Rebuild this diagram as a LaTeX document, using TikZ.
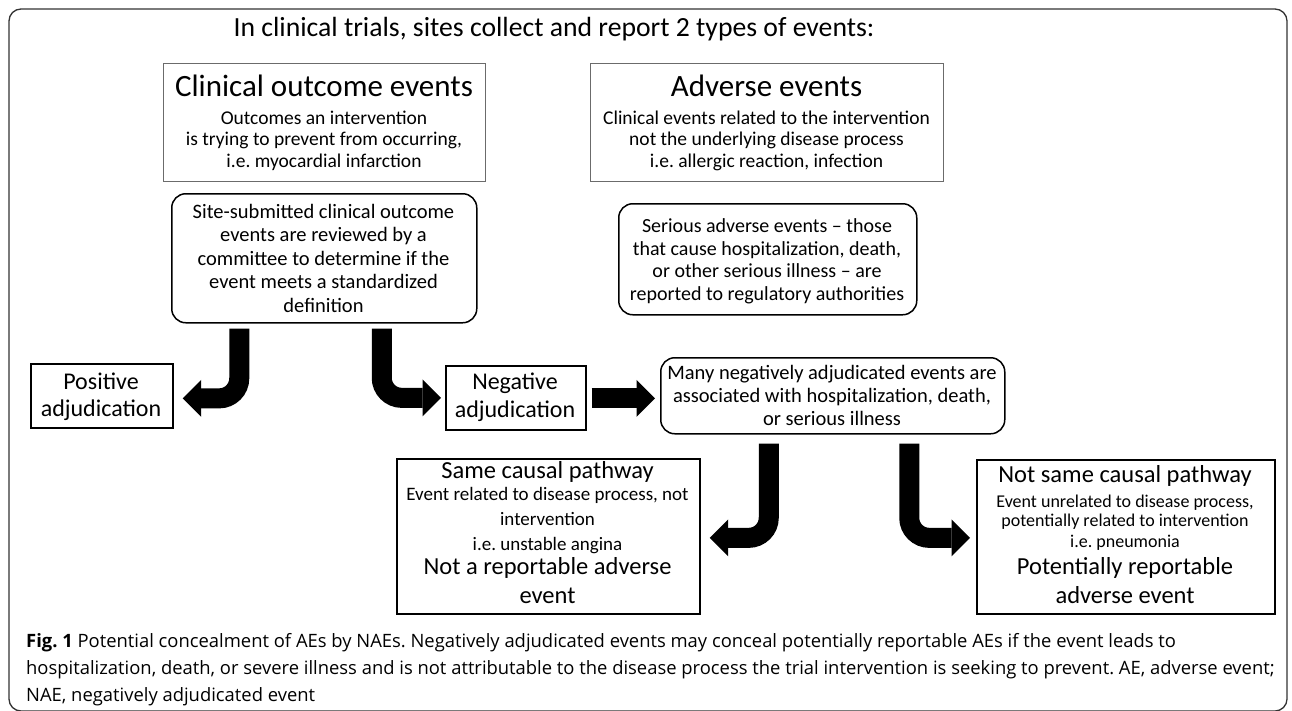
\documentclass[tikz,border=0pt]{standalone}
\usepackage{fontspec}
\setmainfont{Carlito}
\newfontfamily\capfont{Open Sans}
\usetikzlibrary{arrows.meta,calc}
\begin{document}
\frenchspacing
\begin{tikzpicture}[x=1pt,y=-1pt,
  greybox/.style={draw=black!58, line width=1.2pt, inner sep=0pt, anchor=north west},
  rbox/.style={draw=black, line width=1.5pt, rounded corners=14pt, inner sep=0pt, anchor=north west},
  sbox/.style={draw=black, line width=1.7pt, inner sep=0pt, anchor=north west},
  bigarrow/.style={line width=20pt, rounded corners=20pt, -{Triangle[length=18.5pt,width=37pt,line width=0pt]}},
  lbl/.style={anchor=base, inner sep=0pt},
  fTitle/.style={lbl, font=\fontsize{27.7}{27.7}\selectfont},
  fHead/.style={lbl, font=\fontsize{31}{31}\selectfont},
  fSub/.style={lbl, font=\fontsize{19.5}{19.5}\selectfont},
  fRnd/.style={lbl, font=\fontsize{20.5}{20.5}\selectfont},
  fSer/.style={lbl, font=\fontsize{20}{20}\selectfont},
  fAdj/.style={lbl, font=\fontsize{24}{24}\selectfont},
  fBig/.style={lbl, font=\fontsize{24.5}{24.5}\selectfont},
  fSame/.style={lbl, font=\fontsize{19}{19}\selectfont},
  fSmall/.style={lbl, font=\fontsize{18}{18}\selectfont},
  captext/.style={anchor=base west, inner sep=0pt, font=\capfont\fontsize{18.4}{20}\selectfont}
]
\useasboundingbox (0,0) rectangle (1292,710);
% outer frame
\draw[line width=1.3pt, black!80, rounded corners=12pt] (9,9) rectangle (1287,711);

\node[fTitle] (title) at (554,36) {In clinical trials, sites collect and report 2 types of events:};

% boxes
\node[greybox, minimum width=322pt, minimum height=118pt] (b1) at (163,63) {};
\node[greybox, minimum width=353pt, minimum height=118pt] (b2) at (590,63) {};
\node[rbox, minimum width=305pt, minimum height=129pt] (b3) at (171,193) {};
\node[rbox, minimum width=298pt, minimum height=111pt] (b4) at (618,203) {};
\node[sbox, minimum width=142pt, minimum height=64pt] (pos) at (30,363) {};
\node[sbox, minimum width=140pt, minimum height=64pt] (neg) at (445,365) {};
\node[rbox, minimum width=344pt, minimum height=76pt] (many) at (660,357) {};
\node[sbox, minimum width=303pt, minimum height=155pt] (same) at (396,458) {};
\node[sbox, minimum width=298pt, minimum height=154pt] (notsame) at (976,459) {};

% box 1 text
\node[fHead] (b1h) at (324,96) {Clinical outcome events};
\node[fSub] (b1a) at (324,124) {Outcomes an intervention};
\node[fSub] (b1b) at (324,145.5) {is trying to prevent from occurring,};
\node[fSub] (b1c) at (324,167) {i.e. myocardial infarction};
% box 2 text
\node[fHead] (b2h) at (766.5,96) {Adverse events};
\node[fSub] (b2a) at (766.5,124) {Clinical events related to the intervention};
\node[fSub] (b2b) at (766.5,145.5) {not the underlying disease process};
\node[fSub] (b2c) at (766.5,167) {i.e. allergic reaction, infection};
% box 3 text
\node[fRnd] (b3a) at (323.5,218) {Site-submitted clinical outcome};
\node[fRnd] (b3b) at (323.5,241.5) {events are reviewed by a};
\node[fRnd] (b3c) at (323.5,265) {committee to determine if the};
\node[fRnd] (b3d) at (323.5,288.5) {event meets a standardized};
\node[fRnd] (b3e) at (323.5,312) {definition};
% box 4 text
\node[fSer] (b4a) at (767,232) {Serious adverse events – those};
\node[fSer] (b4b) at (767,255) {that cause hospitalization, death,};
\node[fSer] (b4c) at (767,277.5) {or other serious illness – are};
\node[fSer] (b4d) at (767,300) {reported to regulatory authorities};
% adjudication boxes
\node[fAdj] (posa) at (101,389) {Positive};
\node[fAdj] (posb) at (101,416) {adjudication};
\node[fAdj] (nega) at (515,389) {Negative};
\node[fAdj] (negb) at (515,417) {adjudication};
% many
\node[fRnd] (manya) at (832,379) {Many negatively adjudicated events are};
\node[fRnd] (manyb) at (832,402) {associated with hospitalization, death,};
\node[fRnd] (manyc) at (832,425) {or serious illness};
% same
\node[fBig] (samea) at (547.5,478) {Same causal pathway};
\node[fSame] (sameb) at (547.5,500) {Event related to disease process, not};
\node[fSame] (samec) at (547.5,525.5) {intervention};
\node[fSame] (samed) at (547.5,550) {i.e. unstable angina};
\node[fBig] (samee) at (547.5,574) {Not a reportable adverse};
\node[fBig] (samef) at (547.5,603) {event};
% not same
\node[fBig] (nsa) at (1125,482) {Not same causal pathway};
\node[fSmall] (nsb) at (1125,507) {Event unrelated to disease process,};
\node[fSmall] (nsc) at (1125,526) {potentially related to intervention};
\node[fSmall] (nsd) at (1125,547) {i.e. pneumonia};
\node[fBig] (nse) at (1125,574) {Potentially reportable};
\node[fBig] (nsf) at (1125,603) {adverse event};

% block arrows
\draw[bigarrow] ($(b3.south)+(-85,5)$) |- ($(pos.east)+(9,2.5)$);
\draw[bigarrow] ($(b3.south)+(57.5,5)$) |- ($(neg.west)+(-4,0)$);
\draw[bigarrow] ($(neg.east)+(5,0.5)$) -- ($(many.west |- neg.east)+(-5,0.5)$);
\draw[bigarrow] ($(many.south)+(-64,9)$) |- ($(same.east)+(9,1.5)$);
\draw[bigarrow] ($(many.south)+(76.5,9)$) |- ($(notsame.west)+(-6,1)$);

% caption
\node[captext] (cap1) at (26,647) {\textbf{Fig. 1} Potential concealment of AEs by NAEs. Negatively adjudicated events may conceal potentially reportable AEs if the event leads to};
\node[captext] (cap2) at (26,674) {hospitalization, death, or severe illness and is not attributable to the disease process the trial intervention is seeking to prevent. AE, adverse event;};
\node[captext] (cap3) at (26,701) {NAE, negatively adjudicated event};
\end{tikzpicture}
\end{document}
